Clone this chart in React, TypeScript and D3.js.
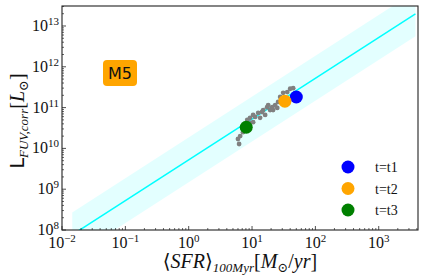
import React from 'react';
import * as d3 from 'd3';

const WIDTH = 424;
const HEIGHT = 280;
const MARGIN = { top: 6, right: 6, bottom: 50, left: 62 };

// scatter of simulated snapshots
const sfrPoints = [6.25, 6.0, 6.5, 7.2, 7.0, 8.4, 9.3, 10.4, 11.2, 12.5, 14.4, 15, 17.3, 18, 20.8, 21.5, 23.2, 25.8, 27.8, 31, 36, 40, 44.6, 9.3, 10.4, 13.4, 19.3, 25, 16.1, 33.3, 30];
const lumPoints = [1.28e10, 1.7e10, 2.0e10, 2.5e10, 3.2e10, 5.0e10, 5.6e10, 6.6e10, 5.9e10, 7.4e10, 7.8e10, 8.7e10, 1.02e11, 1.15e11, 1.02e11, 8.7e10, 1.15e11, 1.38e11, 1.82e11, 2.3e11, 2.4e11, 2.9e11, 3.0e11, 4.2e10, 4.4e10, 5.6e10, 8.7e10, 9.8e10, 6.6e10, 1.7e11, 1.38e11];

// highlighted times
const timeLabels = ['t=t1', 't=t2', 't=t3'];
const timeColors = ['blue', 'orange', 'green'];
const timeSfr = [50, 33, 8.1];
const timeLum = [1.82e11, 1.44e11, 3.3e10];

// relation: log L = log SFR + intercept, with scatter band
const fitSfr = [0.0145, 3800];
const fitIntercept = 9.72;
const fitScatter = 0.55;

const xTickValues = [1e-2, 1e-1, 1e0, 1e1, 1e2, 1e3];
const yTickValues = [1e8, 1e9, 1e10, 1e11, 1e12, 1e13];

const SERIF = '"Liberation Serif", "DejaVu Serif", serif';

const Pow = ({ exp, x, y, anchor }: { exp: number; x: number; y: number; anchor: string }) => (
  <text x={x} y={y} textAnchor={anchor} fontFamily={SERIF} fontSize={16} fill="#111">
    10
    <tspan fontSize={11} dy={-6}>{exp < 0 ? '\u2212' + Math.abs(exp) : exp}</tspan>
  </text>
);

export default function App() {
  const x = d3
    .scaleLog()
    .domain([1e-2, Math.pow(10, 3.62)])
    .range([MARGIN.left, WIDTH - MARGIN.right]);
  const y = d3
    .scaleLog()
    .domain([1e8, Math.pow(10, 13.49)])
    .range([HEIGHT - MARGIN.bottom, MARGIN.top]);

  const fit = (s: number) => s * Math.pow(10, fitIntercept);
  const fitLine = d3
    .line<number>()
    .x((d) => x(d))
    .y((d) => y(fit(d)));
  const band = d3
    .area<number>()
    .x((d) => x(d))
    .y0((d) => y(fit(d) / Math.pow(10, fitScatter)))
    .y1((d) => y(fit(d) * Math.pow(10, fitScatter)));

  const x0 = MARGIN.left;
  const x1 = WIDTH - MARGIN.right;
  const y0 = HEIGHT - MARGIN.bottom;
  const y1 = MARGIN.top;

  const isMajor = (v: number) => Math.abs(Math.log10(v) - Math.round(Math.log10(v))) < 1e-6;
  const xMinor = x.ticks().filter((v) => !isMajor(v));
  const yMinor = y.ticks().filter((v) => !isMajor(v));

  return (
    <svg width={WIDTH} height={HEIGHT} style={{ position: 'absolute', left: 0, top: 0 }}>
      <defs>
        <clipPath id="plot">
          <rect x={x0} y={y1} width={x1 - x0} height={y0 - y1} />
        </clipPath>
      </defs>
      <rect width={WIDTH} height={HEIGHT} fill="white" />
      <g clipPath="url(#plot)">
        <path d={band(fitSfr) || ''} fill="#e0ffff" opacity={0.9} />
        <path d={fitLine(fitSfr) || ''} stroke="#00ffff" strokeWidth={1.5} fill="none" />
        {sfrPoints.map((s, i) => (
          <circle key={i} cx={x(s)} cy={y(lumPoints[i])} r={2.4} fill="gray" />
        ))}
        {timeSfr.map((s, i) => (
          <circle key={i} cx={x(s)} cy={y(timeLum[i])} r={6.5} fill={timeColors[i]} />
        ))}
      </g>

      {/* ticks, pointing inward */}
      {xMinor.map((v, i) => (
        <line key={'xm' + i} x1={x(v)} x2={x(v)} y1={y0} y2={y0 - 2} stroke="#222" strokeWidth={0.7} />
      ))}
      {xTickValues.map((v, i) => (
        <line key={'xM' + i} x1={x(v)} x2={x(v)} y1={y0} y2={y0 - 4} stroke="#222" strokeWidth={0.8} />
      ))}
      {yMinor.map((v, i) => (
        <line key={'ym' + i} x1={x0} x2={x0 + 2} y1={y(v)} y2={y(v)} stroke="#222" strokeWidth={0.7} />
      ))}
      {yTickValues.map((v, i) => (
        <line key={'yM' + i} x1={x0} x2={x0 + 4} y1={y(v)} y2={y(v)} stroke="#222" strokeWidth={0.8} />
      ))}

      <rect x={x0} y={y1} width={x1 - x0} height={y0 - y1} fill="none" stroke="#222" strokeWidth={1.1} />

      {xTickValues.map((v, i) => (
        <Pow key={'xl' + i} exp={Math.round(Math.log10(v))} x={x(v)} y={y0 + 18} anchor="middle" />
      ))}
      {yTickValues.map((v, i) => (
        <Pow key={'yl' + i} exp={Math.round(Math.log10(v))} x={x0 - 3} y={y(v) + 5} anchor="end" />
      ))}

      {/* axis titles */}
      <text x={(x0 + x1) / 2} y={268} textAnchor="middle" fontFamily={SERIF} fontSize={20} fill="#111">
        {'\u27E8'}
        <tspan fontStyle="italic">SFR</tspan>
        {'\u27E9'}
        <tspan fontSize={13} dy={4} fontStyle="italic">100Myr</tspan>
        <tspan dy={-4}>[</tspan>
        <tspan fontStyle="italic">M</tspan>
        <tspan fontSize={13} dy={4}>{'\u2299'}</tspan>
        <tspan dy={-4}>/</tspan>
        <tspan fontStyle="italic">yr</tspan>]
      </text>
      <text
        transform={`translate(24, ${(y0 + y1) / 2 + 3}) rotate(-90)`}
        textAnchor="middle"
        fontFamily={SERIF}
        fontSize={20}
        fill="#111"
      >
        <tspan fontFamily='"DejaVu Sans", sans-serif' fontSize={19}>L</tspan>
        <tspan fontSize={13} dy={4} fontStyle="italic">FUV,corr</tspan>
        <tspan dy={-4}>[</tspan>
        <tspan fontStyle="italic">L</tspan>
        <tspan fontSize={13} dy={4}>{'\u2299'}</tspan>
        <tspan dy={-4}>]</tspan>
      </text>

      {/* model tag */}
      <rect x={103} y={60} width={34} height={26} rx={4} fill="orange" />
      <text x={120} y={79} textAnchor="middle" fontFamily='"DejaVu Sans", sans-serif' fontSize={16} fill="#111">
        M5
      </text>

      {/* legend */}
      {timeLabels.map((t, i) => (
        <g key={t} transform={`translate(348, ${167 + i * 21.5})`}>
          <circle r={6.5} fill={timeColors[i]} />
          <text x={27} y={5} fontFamily={SERIF} fontSize={14} fill="#111">
            {t}
          </text>
        </g>
      ))}
    </svg>
  );
}
